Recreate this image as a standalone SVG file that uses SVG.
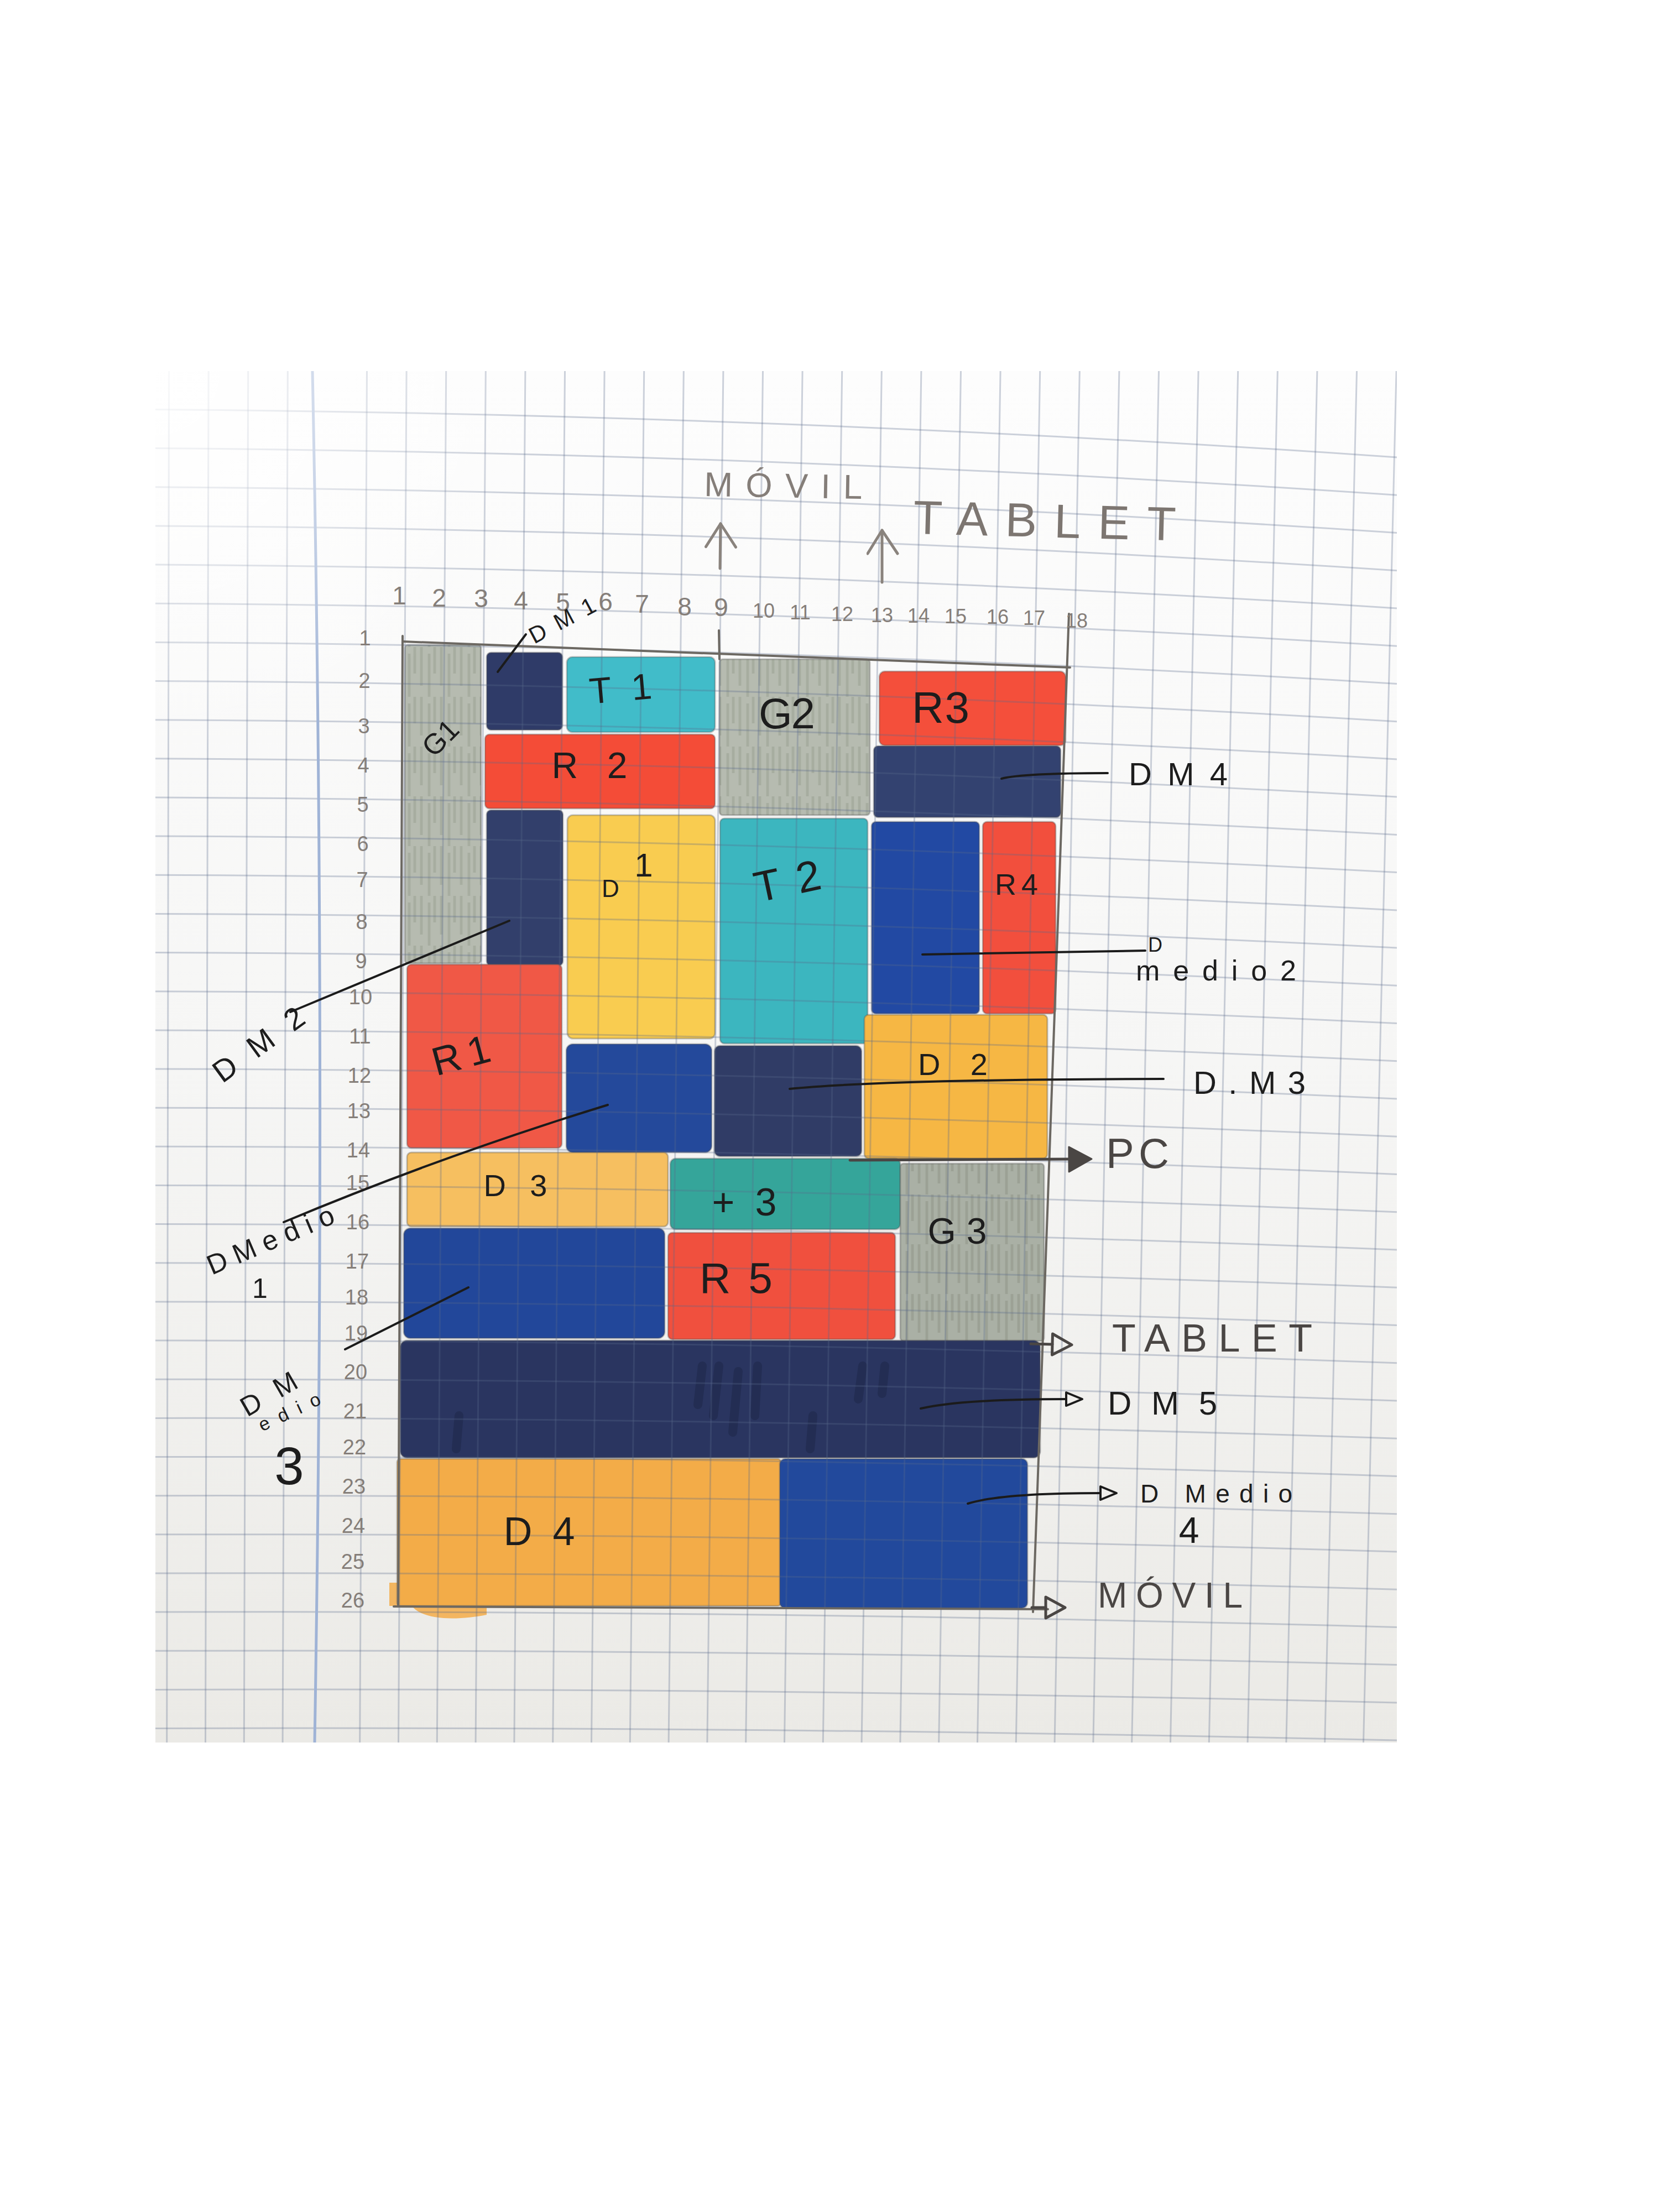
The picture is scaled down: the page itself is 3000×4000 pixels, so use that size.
<svg xmlns="http://www.w3.org/2000/svg" width="3000" height="4000" viewBox="0 0 3000 4000">
<defs>
  <linearGradient id="paper" x1="0" y1="0" x2="0" y2="1">
    <stop offset="0" stop-color="#fdfdfd"/>
    <stop offset="0.5" stop-color="#f6f6f5"/>
    <stop offset="1" stop-color="#ebeae6"/>
  </linearGradient>
  <radialGradient id="haze" cx="281" cy="671" r="700" gradientUnits="userSpaceOnUse">
    <stop offset="0" stop-color="#ffffff" stop-opacity="0.9"/>
    <stop offset="1" stop-color="#ffffff" stop-opacity="0"/>
  </radialGradient>
  <clipPath id="photo"><rect x="281" y="671" width="2245" height="2480"/></clipPath>
  <pattern id="gstreak" patternUnits="userSpaceOnUse" width="36" height="90">
    <rect width="36" height="90" fill="#b6bbb0"/>
    <path d="M6,0V70M20,12V90M30,0V48" stroke="#9ba193" stroke-width="5" opacity="0.55"/>
  </pattern>
  <pattern id="gstreak2" patternUnits="userSpaceOnUse" width="36" height="90">
    <rect width="36" height="90" fill="#aab0a5"/>
    <path d="M6,0V70M20,12V90M30,0V48" stroke="#8f9588" stroke-width="5" opacity="0.55"/>
  </pattern>
  <marker id="tri" markerUnits="userSpaceOnUse" markerWidth="40" markerHeight="34" refX="3" refY="15" orient="auto">
    <path d="M3,3 L32,15 L3,27 Z" fill="none" stroke="#1b1b1b" stroke-width="4" stroke-linejoin="round"/>
  </marker>
  <marker id="triG" markerUnits="userSpaceOnUse" markerWidth="46" markerHeight="50" refX="3" refY="22" orient="auto">
    <path d="M3,3 L38,22 L3,41 Z" fill="none" stroke="#4a4644" stroke-width="5" stroke-linejoin="round"/>
  </marker>
  <marker id="triFill" markerUnits="userSpaceOnUse" markerWidth="50" markerHeight="54" refX="3" refY="25" orient="auto">
    <path d="M3,3 L44,25 L3,48 Z" fill="#4a4644" stroke="#4a4644" stroke-width="3" stroke-linejoin="round"/>
  </marker>
  <marker id="up" markerUnits="userSpaceOnUse" markerWidth="60" markerHeight="64" refX="50" refY="28" orient="auto">
    <path d="M8,2 L50,28 L8,56" fill="none" stroke="#8a837d" stroke-width="5" stroke-linecap="round" stroke-linejoin="round"/>
  </marker>
</defs>
<style>
  .grid{fill:none;stroke:#5a6a8c;stroke-opacity:0.3;stroke-width:3}
  .margin{fill:none;stroke:#9fb3d6;stroke-width:5}
  .blk{stroke:#555555;stroke-opacity:0.35;stroke-width:3}
  .frame{fill:none;stroke:#6c6862;stroke-width:4;stroke-linecap:round}
  .hand{font-family:"Liberation Sans","DejaVu Sans",Arial,sans-serif}
  .ink{fill:#1d1d1d}
  .pencil{fill:#857e79}
  .dark{fill:#4a4644}
  .lead{fill:none;stroke:#1b1b1b;stroke-width:4;stroke-linecap:round}
  .leadG{fill:none;stroke:#4a4644;stroke-width:5;stroke-linecap:round}
  .upar{fill:none;stroke:#8a837d;stroke-width:5;stroke-linecap:round}
  .num{font-size:46px}
  .num2{font-size:36px}
  .row{font-size:38px}
</style>

<rect width="3000" height="4000" fill="#ffffff"/>
<rect x="281" y="671" width="2245" height="2480" fill="url(#paper)"/>

<g id="blocks">
  <g id="G1"><rect class="blk" x="732" y="1166" width="138" height="576" rx="6" fill="url(#gstreak)"/></g>
  <g id="DM1"><rect class="blk" x="880" y="1180" width="137" height="140" rx="8" fill="#2f3b68"/></g>
  <g id="T1"><rect class="blk" x="1025" y="1188" width="268" height="136" rx="10" fill="#41bcc9"/></g>
  <g id="R2"><rect class="blk" x="877" y="1328" width="416" height="134" rx="8" fill="#f44c37"/></g>
  <g id="DM2"><rect class="blk" x="880" y="1465" width="138" height="281" rx="8" fill="#323f6b"/></g>
  <g id="D1"><rect class="blk" x="1026" y="1474" width="267" height="404" rx="10" fill="#f9cc50"/></g>
  <g id="G2"><rect class="blk" x="1301" y="1192" width="272" height="282" rx="6" fill="url(#gstreak)"/></g>
  <g id="T2"><rect class="blk" x="1302" y="1480" width="267" height="407" rx="8" fill="#3cb6bf"/></g>
  <g id="R3"><rect class="blk" x="1590" y="1214" width="337" height="134" rx="10" fill="#f44f3b"/></g>
  <g id="DM4"><rect class="blk" x="1580" y="1349" width="338" height="129" rx="8" fill="#334270"/></g>
  <g id="Dmedio2"><rect class="blk" x="1576" y="1486" width="195" height="347" rx="8" fill="#2249a3"/></g>
  <g id="R4"><rect class="blk" x="1777" y="1486" width="132" height="347" rx="8" fill="#f24f3d"/></g>
  <g id="R1"><rect class="blk" x="736" y="1744" width="280" height="332" rx="8" fill="#f05846"/></g>
  <g id="Dmedio1"><rect class="blk" x="1024" y="1888" width="263" height="196" rx="12" fill="#24499b"/></g>
  <g id="DM3"><rect class="blk" x="1292" y="1891" width="266" height="200" rx="10" fill="#303c66"/></g>
  <g id="D2"><rect class="blk" x="1563" y="1835" width="331" height="260" rx="8" fill="#f6b744"/></g>
  <g id="D3"><rect class="blk" x="736" y="2084" width="472" height="134" rx="8" fill="#f6bf60"/></g>
  <g id="T3"><rect class="blk" x="1212" y="2095" width="416" height="128" rx="10" fill="#35a59a"/></g>
  <g id="G3"><rect class="blk" x="1628" y="2104" width="260" height="321" rx="6" fill="url(#gstreak2)"/></g>
  <g id="Dmedio3"><rect class="blk" x="730" y="2221" width="472" height="199" rx="12" fill="#22479a"/></g>
  <g id="R5"><rect class="blk" x="1208" y="2229" width="411" height="193" rx="8" fill="#f0503e"/></g>
  <g id="DM5">
    <rect class="blk" x="724" y="2424" width="1157" height="212" rx="12" fill="#2a3560"/>
    <path d="M1270,2470 L1262,2540 M1300,2470 L1290,2560 M1335,2480 L1325,2590 M1370,2470 L1365,2560 M1560,2470 L1552,2530 M1600,2470 L1595,2520 M1470,2560 L1465,2620 M830,2560 L825,2620" stroke="#1d2747" stroke-width="16" stroke-linecap="round" opacity="0.5"/>
  </g>
  <g id="D4">
    <path d="M742,2900 C760,2932 830,2930 880,2920 L880,2900 Z M704,2862 L722,2862 L722,2904 L704,2904 Z" fill="#f3ac48" opacity="0.85"/>
    <rect class="blk" x="718" y="2638" width="694" height="266" rx="6" fill="#f3ac48"/>
  </g>
  <g id="Dmedio4"><rect class="blk" x="1410" y="2638" width="448" height="270" rx="10" fill="#22499c"/></g>
</g>

<g id="paper-grid" clip-path="url(#photo)">
  <path class="grid" d="M281,740.5Q1403.5,749 2526,827M281,810.6Q1403.5,818.8 2526,895.2M281,880.8Q1403.5,888.6 2526,963.5M281,950.9Q1403.5,958.4 2526,1031.7M281,1021.1Q1403.5,1028.1 2526,1099.9M281,1091.2Q1403.5,1097.9 2526,1168.2M281,1161.4Q1403.5,1167.7 2526,1236.4M281,1231.5Q1403.5,1237.4 2526,1304.7M281,1301.7Q1403.5,1307.2 2526,1372.9M281,1371.8Q1403.5,1377 2526,1441.1M281,1442Q1403.5,1446.8 2526,1509.4M281,1512.1Q1403.5,1516.5 2526,1577.6M281,1582.3Q1403.5,1586.3 2526,1645.9M281,1652.4Q1403.5,1656.1 2526,1714.1M281,1722.6Q1403.5,1725.9 2526,1782.3M281,1792.7Q1403.5,1795.6 2526,1850.6M281,1862.9Q1403.5,1865.4 2526,1918.8M281,1933Q1403.5,1935.2 2526,1987.1M281,2003.2Q1403.5,2004.9 2526,2055.3M281,2073.3Q1403.5,2074.7 2526,2123.5M281,2143.5Q1403.5,2144.5 2526,2191.8M281,2213.6Q1403.5,2214.3 2526,2260M281,2283.8Q1403.5,2284.1 2526,2328.2M281,2353.9Q1403.5,2353.8 2526,2396.5M281,2424.1Q1403.5,2423.6 2526,2464.7M281,2494.2Q1403.5,2493.4 2526,2533M281,2564.4Q1403.5,2563.2 2526,2601.2M281,2634.5Q1403.5,2632.9 2526,2669.4M281,2704.7Q1403.5,2702.7 2526,2737.7M281,2774.8Q1403.5,2772.5 2526,2805.9M281,2845Q1403.5,2842.3 2526,2874.2M281,2915.1Q1403.5,2912 2526,2942.4M281,2985.3Q1403.5,2981.8 2526,3010.6M281,3055.4Q1403.5,3051.6 2526,3078.9M281,3125.6Q1403.5,3121.4 2526,3147.1"/>
  <path class="grid" d="M305.5,671L301.7,3151M377.1,671L371.5,3151M448.7,671L441.3,3151M520.3,671L511.1,3151M663.5,671L650.7,3151M735.1,671L720.5,3151M806.7,671L790.3,3151M878.3,671L860.1,3151M949.9,671L929.9,3151M1021.5,671L999.7,3151M1093.1,671L1069.5,3151M1164.7,671L1139.3,3151M1236.3,671L1209.1,3151M1307.9,671L1278.9,3151M1379.5,671L1348.7,3151M1451.1,671L1418.5,3151M1522.7,671L1488.3,3151M1594.3,671L1558.1,3151M1665.9,671L1627.9,3151M1737.5,671L1697.7,3151M1809.1,671L1767.5,3151M1880.7,671L1837.3,3151M1952.3,671L1907.1,3151M2023.9,671L1976.9,3151M2095.5,671L2046.7,3151M2167.1,671L2116.5,3151M2238.7,671L2186.3,3151M2310.3,671L2256.1,3151M2381.9,671L2325.9,3151M2453.5,671L2395.7,3151M2525.1,671L2465.5,3151"/>
  <path class="margin" d="M565,671 Q590,1900 569,3151"/>
  <rect x="281" y="671" width="900" height="800" fill="url(#haze)"/>
</g>

<g id="frame">
  <path class="frame" d="M728,1160 L1935,1207"/>
  <path class="frame" d="M1933,1110 L1868,2915"/>
  <path class="frame" d="M712,2905 L1895,2910"/>
  <path class="frame" d="M728,1150 L720,2905"/>
  <path class="frame" d="M1300,1140 L1301,1192"/>
</g>

<g id="axis-labels" class="hand pencil" text-anchor="middle">
  <text class="num" x="722" y="1093">1</text>
  <text class="num" x="794" y="1097">2</text>
  <text class="num" x="870" y="1098">3</text>
  <text class="num" x="942" y="1102">4</text>
  <text class="num" x="1018" y="1105">5</text>
  <text class="num" x="1095" y="1104">6</text>
  <text class="num" x="1161" y="1108">7</text>
  <text class="num" x="1238" y="1113">8</text>
  <text class="num" x="1304" y="1114">9</text>
  <text class="num2" x="1381" y="1117">10</text>
  <text class="num2" x="1447" y="1120">11</text>
  <text class="num2" x="1523" y="1123">12</text>
  <text class="num2" x="1595" y="1125">13</text>
  <text class="num2" x="1661" y="1126">14</text>
  <text class="num2" x="1728" y="1127">15</text>
  <text class="num2" x="1804" y="1128">16</text>
  <text class="num2" x="1870" y="1130">17</text>
  <text class="num2" x="1947" y="1135">18</text>
  <text class="row" x="660" y="1167">1</text>
  <text class="row" x="659" y="1244">2</text>
  <text class="row" x="658" y="1326">3</text>
  <text class="row" x="657" y="1397">4</text>
  <text class="row" x="656" y="1468">5</text>
  <text class="row" x="656" y="1539">6</text>
  <text class="row" x="655" y="1604">7</text>
  <text class="row" x="654" y="1680">8</text>
  <text class="row" x="653" y="1751">9</text>
  <text class="row" x="652" y="1816">10</text>
  <text class="row" x="651" y="1887">11</text>
  <text class="row" x="650" y="1958">12</text>
  <text class="row" x="649" y="2022">13</text>
  <text class="row" x="648" y="2093">14</text>
  <text class="row" x="647" y="2152">15</text>
  <text class="row" x="647" y="2223">16</text>
  <text class="row" x="646" y="2294">17</text>
  <text class="row" x="645" y="2359">18</text>
  <text class="row" x="644" y="2424">19</text>
  <text class="row" x="643" y="2494">20</text>
  <text class="row" x="642" y="2565">21</text>
  <text class="row" x="641" y="2630">22</text>
  <text class="row" x="640" y="2701">23</text>
  <text class="row" x="639" y="2772">24</text>
  <text class="row" x="638" y="2837">25</text>
  <text class="row" x="638" y="2907">26</text>
</g>

<g id="block-labels" class="hand ink" text-anchor="middle">
  <text x="797" y="1352" font-size="52" transform="rotate(-45 797 1335)">G1</text>
  <text x="1122" y="1268" font-size="66" textLength="113" lengthAdjust="spacing" transform="rotate(-5 1122 1245)">T1</text>
  <text x="1423" y="1317" font-size="78" textLength="102" lengthAdjust="spacing">G2</text>
  <text x="1701" y="1307" font-size="80" textLength="104" lengthAdjust="spacing">R3</text>
  <text x="1066" y="1407" font-size="66" textLength="137" lengthAdjust="spacing">R2</text>
  <text x="1104" y="1622" font-size="44">D</text>
  <text x="1164" y="1585" font-size="60">1</text>
  <text x="1423" y="1620" font-size="78" textLength="121" lengthAdjust="spacing" transform="rotate(-12 1423 1590)">T2</text>
  <text x="1838" y="1618" font-size="54" textLength="78" lengthAdjust="spacing">R4</text>
  <text x="833" y="1933" font-size="72" textLength="106" lengthAdjust="spacing" transform="rotate(-15 833 1906)">R1</text>
  <text x="1723" y="1944" font-size="56" textLength="126" lengthAdjust="spacing">D2</text>
  <text x="932" y="2163" font-size="56" textLength="115" lengthAdjust="spacing">D3</text>
  <text x="1346" y="2198" font-size="70" textLength="117" lengthAdjust="spacing">+3</text>
  <text x="1731" y="2249" font-size="66" textLength="107" lengthAdjust="spacing">G3</text>
  <text x="1331" y="2338" font-size="78" textLength="132" lengthAdjust="spacing">R5</text>
  <text x="975" y="2794" font-size="72" textLength="129" lengthAdjust="spacing">D4</text>
</g>

<g id="annotations" class="hand">
  <text x="1273" y="897" font-size="62" textLength="286" lengthAdjust="spacing" transform="rotate(1 1273 897)" fill="#857e79">MÓVIL</text>
  <text x="1651" y="965" font-size="86" textLength="475" lengthAdjust="spacing" transform="rotate(1.5 1651 965)" fill="#7d7671">TABLET</text>
  <text class="ink" x="966" y="1165" font-size="42" textLength="130" lengthAdjust="spacing" transform="rotate(-28 966 1165)">DM1</text>
  <text class="ink" x="2041" y="1420" font-size="58" textLength="179" lengthAdjust="spacing">DM4</text>
  <text class="ink" x="2076" y="1721" font-size="36">D</text>
  <text class="ink" x="2054" y="1773" font-size="52" textLength="290" lengthAdjust="spacing">medio2</text>
  <text class="ink" x="2158" y="1978" font-size="58" textLength="203" lengthAdjust="spacing">D.M3</text>
  <text class="ink" x="402" y="1960" font-size="56" textLength="190" lengthAdjust="spacing" transform="rotate(-36 402 1960)">DM2</text>
  <text class="ink" x="383" y="2306" font-size="50" textLength="245" lengthAdjust="spacing" transform="rotate(-23 383 2306)">DMedio</text>
  <text class="ink" x="470" y="2347" font-size="50" text-anchor="middle">1</text>
  <text class="ink" x="447" y="2563" font-size="50" textLength="110" lengthAdjust="spacing" transform="rotate(-30 447 2563)">DM</text>
  <text class="ink" x="474" y="2589" font-size="34" textLength="120" lengthAdjust="spacing" transform="rotate(-25 474 2589)">edio</text>
  <text class="ink" x="523" y="2684" font-size="96" text-anchor="middle">3</text>
  <text class="dark" x="2000" y="2112" font-size="76" textLength="114" lengthAdjust="spacing">PC</text>
  <text class="dark" x="2011" y="2444" font-size="70" textLength="362" lengthAdjust="spacing">TABLET</text>
  <text class="ink" x="2003" y="2558" font-size="60" textLength="198" lengthAdjust="spacing">DM5</text>
  <text class="ink" x="2062" y="2717" font-size="46" textLength="275" lengthAdjust="spacing">D Medio</text>
  <text class="ink" x="2150" y="2790" font-size="66" text-anchor="middle">4</text>
  <text class="dark" x="1985" y="2907" font-size="64" textLength="262" lengthAdjust="spacing">MÓVIL</text>
</g>

<g id="connectors">
  <path class="upar" d="M1302,1028 L1303,947" marker-end="url(#up)"/>
  <path class="upar" d="M1595,1053 L1595,959" marker-end="url(#up)"/>
  <path class="lead" d="M900,1215 L951,1147"/>
  <path class="lead" d="M525,1830 L921,1665"/>
  <path class="lead" d="M513,2210 Q800,2090 1099,1998"/>
  <path class="lead" d="M624,2440 L847,2328"/>
  <path class="lead" d="M1811,1408 Q1850,1398 2003,1398"/>
  <path class="lead" d="M1668,1726 L2071,1719"/>
  <path class="lead" d="M1428,1969 Q1600,1952 2104,1951"/>
  <path class="leadG" d="M1537,2098 L1933,2096" marker-end="url(#triFill)"/>
  <path class="leadG" d="M1864,2430 L1903,2431" marker-end="url(#triG)"/>
  <path class="lead" d="M1665,2547 Q1740,2530 1928,2530" marker-end="url(#tri)"/>
  <path class="lead" d="M1750,2719 Q1810,2700 1990,2700" marker-end="url(#tri)"/>
  <path class="leadG" d="M1866,2907 L1891,2907" marker-end="url(#triG)"/>
</g>
</svg>
